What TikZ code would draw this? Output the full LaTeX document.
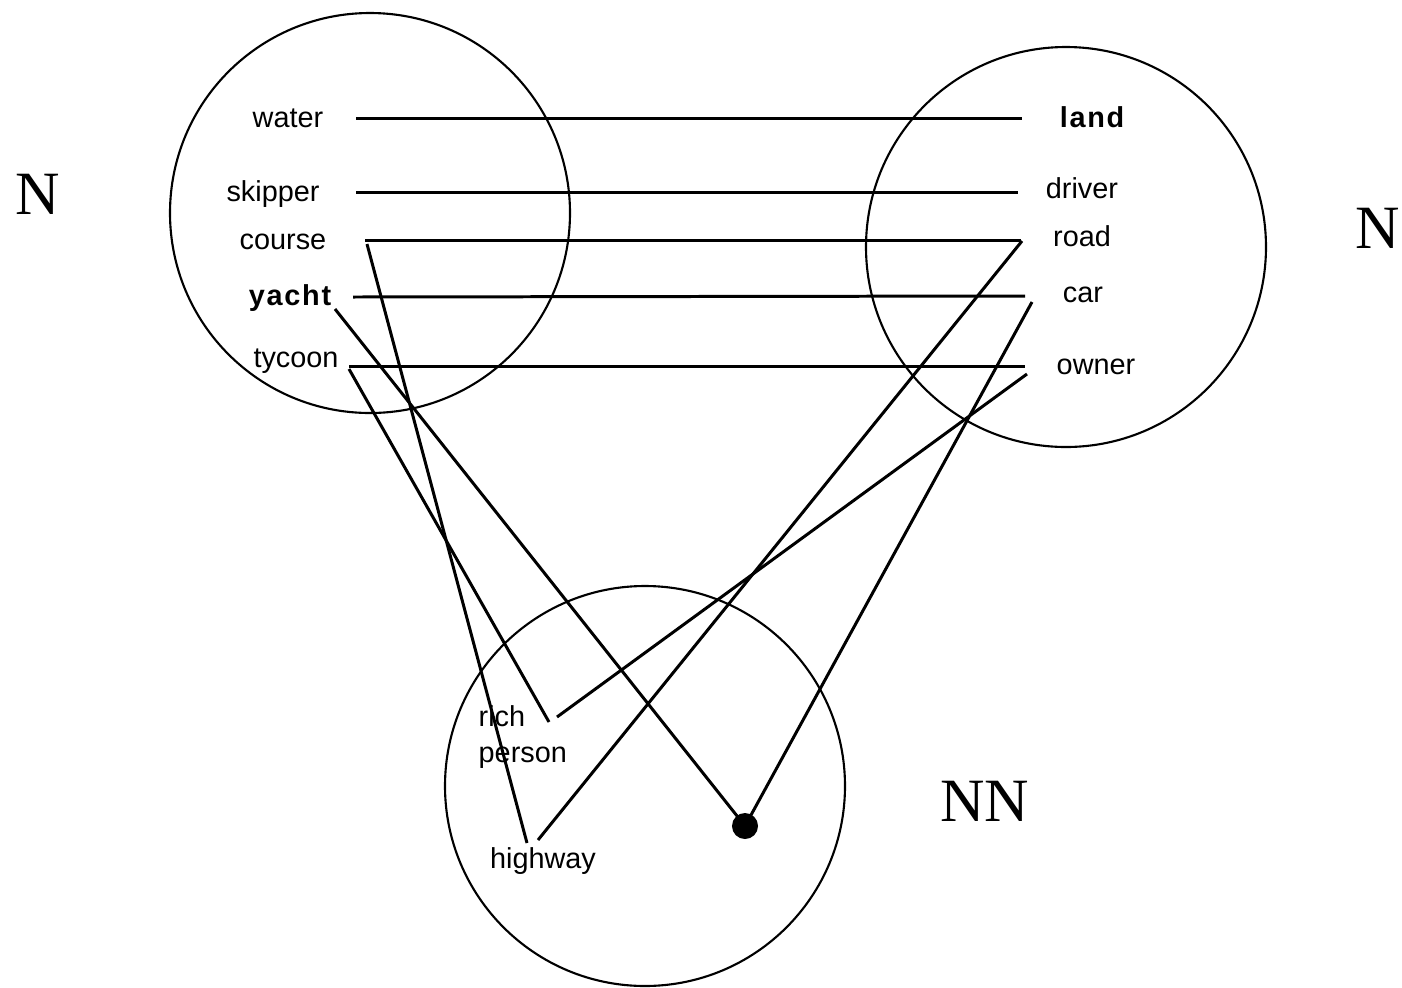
\documentclass[tikz,border=0pt]{standalone}
\usepackage{fontspec}
\setmainfont{Liberation Sans}
\newfontfamily\timesfont{Liberation Serif}
\newfontfamily\spacedfont[LetterSpace=6]{Liberation Sans}
\usepackage{tikz}
\usetikzlibrary{positioning}

\begin{document}
\begin{tikzpicture}[x=0.01cm, y=-0.01cm, font=\fontsize{8.2}{10}\selectfont,
	word/.style={anchor=base, inner sep=0pt},
	keyword/.style={word, font=\fontsize{8.2}{10}\spacedfont\bfseries},
	tag/.style={font=\fontsize{17.5}{20}\timesfont, inner sep=0pt},
	ring/.style={line width=0.6pt},
	link/.style={line width=0.85pt}]

	\useasboundingbox (0,0) rectangle (1402,987);

	% the three circles
	\draw[ring] (370,213) circle[radius=200];
	\draw[ring] (1066,247) circle[radius=200];
	\draw[ring] (645,786) circle[radius=200];

	\node[tag] (nl)  at (38,194)  {N};
	\node[tag] (nr)  at (1378,228) {N};
	\node[tag] (nn)  at (985,801) {NN};

	% left words
	\node[word]    (water)   at (288,127) {water};
	\node[word]    (skipper) at (273,201) {skipper};
	\node[word]    (course)  at (283,249) {course};
	\node[keyword] (yacht)   at (290,305) {yacht};
	\node[word]    (tycoon)  at (296,367) {tycoon};

	% right words
	\node[keyword] (land)   at (1092,127) {land};
	\node[word]    (driver) at (1082,198) {driver};
	\node[word]    (road)   at (1082,246) {road};
	\node[word]    (car)    at (1083,302) {car};
	\node[word]    (owner)  at (1096,374) {owner};

	% bottom words
	\node[anchor=base west, inner sep=0pt, align=left] (rich) at (478,762) {rich\\person};
	\node[word] (highway) at (543,868) {highway};
	\node[circle, fill, inner sep=0pt, minimum size=0.26cm] (dot) at (745,826) {};

	% line ends
	\coordinate (waterR) at (356,118);   \coordinate (landL)   at (1022,118);
	\coordinate (skipR)  at (356,192);   \coordinate (drivL)   at (1018,192);
	\coordinate (courR)  at (365,240);   \coordinate (roadL)   at (1021,240);
	\coordinate (yachR)  at (353,297);   \coordinate (carL)    at (1025,296);
	\coordinate (tycoR)  at (349,366);   \coordinate (ownL)    at (1025,366);

	\coordinate (courD)  at (367,244);   \coordinate (hwyL)    at (527,843);
	\coordinate (yachD)  at (335,309);
	\coordinate (tycoD)  at (349,369);   \coordinate (richL)   at (549,722);
	\coordinate (roadD)  at (1022,241);  \coordinate (hwyR)    at (538,840);
	\coordinate (carD)   at (1032,302);
	\coordinate (ownD)   at (1027,374);  \coordinate (richR)   at (557,717);

	\draw[link] (waterR) -- (landL);
	\draw[link] (skipR) -- (drivL);
	\draw[link] (courR) -- (roadL);
	\draw[link] (yachR) -- (carL);
	\draw[link] (tycoR) -- (ownL);

	\draw[link] (courD) -- (hwyL);
	\draw[link] (yachD) -- (dot.center);
	\draw[link] (tycoD) -- (richL);
	\draw[link] (roadD) -- (hwyR);
	\draw[link] (carD) -- (dot.center);
	\draw[link] (ownD) -- (richR);
\end{tikzpicture}
\end{document}
